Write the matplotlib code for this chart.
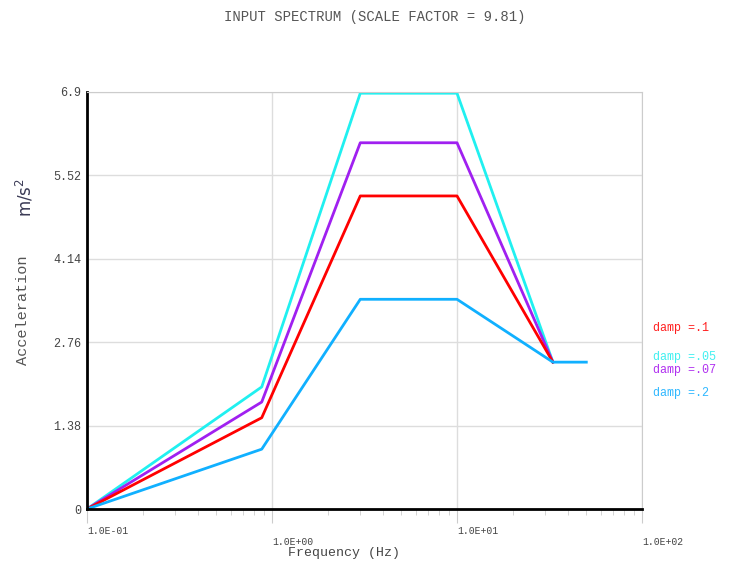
import numpy as np
import matplotlib.pyplot as plt
from matplotlib.ticker import NullFormatter, LogLocator

plt.rcParams['font.family'] = ['Liberation Mono', 'DejaVu Sans Mono']

# spectrum points (Hz, m/s^2)
freq = [0.1, 0.88, 3.0, 10.0, 33.0]
freq_blue = [0.1, 0.88, 3.0, 10.0, 33.0, 50.0]
acc_05 = [0.0, 2.02, 6.88, 6.88, 2.43]
acc_07 = [0.0, 1.77, 6.06, 6.06, 2.43]
acc_1 = [0.0, 1.51, 5.18, 5.18, 2.43]
acc_2 = [0.0, 0.99, 3.47, 3.47, 2.43, 2.43]

yticks = [0, 1.38, 2.76, 4.14, 5.52, 6.9]
ytick_labels = ['0', '1.38', '2.76', '4.14', '5.52', '6.9']
xticks = [0.1, 1, 10, 100]
xtick_labels = ['1.0E-01', '\n1.0E+00', '1.0E+01', '\n1.0E+02']

labels = ['damp =.1', 'damp =.05', 'damp =.07', 'damp =.2']
label_colors = ['#ff2020', '#40f0f0', '#b030f0', '#30b8ff']
label_y = [3.00, 2.52, 2.30, 1.92]

fig = plt.figure(figsize=(7.35, 5.65), dpi=100)
ax = fig.add_axes([87 / 735, 1 - 509 / 565, 555 / 735, 417 / 565])

ax.plot(freq, acc_05, color='#20f0f0', lw=2)
ax.plot(freq, acc_07, color='#a020f0', lw=2)
ax.plot(freq, acc_1, color='#ff0000', lw=2)
ax.plot(freq_blue, acc_2, color='#10b0ff', lw=2)

ax.set_xscale('log')
ax.set_xlim(0.1, 100)
ax.set_ylim(0, 6.9)
ax.set_xticks(xticks)
ax.set_xticklabels(xtick_labels, fontsize=7, color='#444444', ha='left')
ax.xaxis.set_minor_locator(LogLocator(base=10, subs=np.arange(2, 10)))
ax.xaxis.set_minor_formatter(NullFormatter())
ax.set_yticks(yticks)
ax.set_yticklabels(ytick_labels, fontsize=8.5, color='#444444')
ax.tick_params(axis='y', length=0, pad=4)
ax.tick_params(axis='x', which='major', length=10, color='#cccccc', pad=2)
ax.tick_params(axis='x', which='minor', length=4, color='#cccccc')

ax.grid(True, which='major', color='#dddddd', lw=1)
for s in ['top', 'right']:
    ax.spines[s].set_color('#cccccc')
for s in ['left', 'bottom']:
    ax.spines[s].set_color('black')
    ax.spines[s].set_linewidth(2)

fig.text(0.51, 0.97, 'INPUT SPECTRUM (SCALE FACTOR = 9.81)', ha='center',
         va='center', fontsize=10, color='#555555')
fig.text(344 / 735, 1 - 553 / 565, 'Frequency (Hz)', ha='center',
         va='center', fontsize=9.5, color='#444444')
fig.text(23 / 735, 1 - 310 / 565, 'Acceleration', rotation=90, ha='center',
         va='center', fontsize=11, color='#555555')
fig.text(25 / 735, 1 - 198 / 565, 'm/s$^2$', rotation=90, ha='center',
         va='center', fontsize=12, color='#3a3a55', family='DejaVu Sans')

for lab, c, y in zip(labels, label_colors, label_y):
    ax.text(1.02, y / 6.9, lab, transform=ax.transAxes, color=c,
            fontsize=8.5, va='center', ha='left', clip_on=False)

fig.savefig('out.png', dpi=100)
